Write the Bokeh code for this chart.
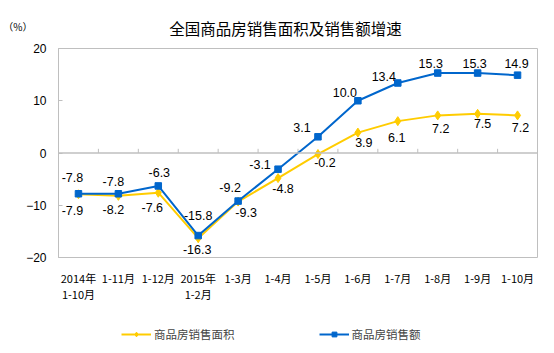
from bokeh.plotting import figure
from bokeh.layouts import column
from bokeh.models import (Range1d, FixedTicker, Span, Label, Legend, LegendItem,
                          ColumnDataSource, LabelSet, LinearAxis)
from bokeh.core.properties import value
from bokeh.embed import file_html
from bokeh.resources import INLINE

categories = ["2014年\n1-10月", "1-11月", "1-12月", "2015年\n1-2月", "1-3月", "1-4月",
              "1-5月", "1-6月", "1-7月", "1-8月", "1-9月", "1-10月"]
area_growth = [-7.9, -8.2, -7.6, -16.3, -9.3, -4.8, -0.2, 3.9, 6.1, 7.2, 7.5, 7.2]
sales_growth = [-7.8, -7.8, -6.3, -15.8, -9.2, -3.1, 3.1, 10.0, 13.4, 15.3, 15.3, 14.9]
y_ticks = [-20, -10, 0, 10, 20]
series_names = ["商品房销售面积", "商品房销售额"]
title_text = "全国商品房销售面积及销售额增速"
unit_text = "（%）"

# label placement offsets (pixels)
sales_dx = [-6, -5, 1, 0, -8, -18, -16, -13, -14, -7, -3, -1]
sales_dy = [16, 12, 13, 20, 14, 5, 9, 8, 6, 10, 10, 12]
area_dx = [-6, -5, -6, -1, 8, 5, 7, 6, -1, 3, 5, 3]
area_dy = [-16, -14, -15, -11, -11, -10, -8, -10, -16, -13, -10, -12]

YELLOW = "#FFCC00"
BLUE = "#0066CC"
GRAY = "#BFBFBF"
n = len(categories)
xs = [i + 0.5 for i in range(n)]


def bare_figure(h):
    f = figure(width=554, height=h, output_backend="svg", toolbar_location=None,
               x_range=Range1d(0, 1), y_range=Range1d(0, 1),
               x_axis_type=None, y_axis_type=None, title_location=None,
               min_border_left=58, min_border_right=17,
               min_border_top=0, min_border_bottom=0)
    f.outline_line_color = None
    f.grid.visible = False
    f.background_fill_color = "white"
    f.border_fill_color = "white"
    return f


# ---- header: title and unit ----
top = bare_figure(40)
top.add_layout(Label(x=227, y=13, x_units="screen", y_units="screen", text=title_text,
                     text_align="center", text_baseline="middle",
                     text_font="Noto Sans CJK SC", text_font_size="15.5px", text_color="#000000"))
unit_axis = LinearAxis(ticker=FixedTicker(ticks=[0.35]), major_label_overrides={0.35: unit_text},
                       axis_line_color=None, major_tick_line_color=None,
                       minor_tick_line_color=None, major_label_standoff=20,
                       major_label_text_font="Noto Sans CJK SC",
                       major_label_text_font_size="10px", major_label_text_color="#000000")
top.add_layout(unit_axis, "left")

# ---- main chart ----
p = figure(frame_width=479, frame_height=209, output_backend="svg", toolbar_location=None,
           x_range=Range1d(0, n), y_range=Range1d(-20, 20), title_location=None,
           min_border_left=58, min_border_right=17, min_border_top=8, min_border_bottom=52)
p.background_fill_color = "white"
p.border_fill_color = "white"
p.outline_line_color = GRAY
p.grid.visible = False

xa = p.xaxis[0]
xa.ticker = FixedTicker(ticks=xs)
xa.major_label_overrides = {x: c for x, c in zip(xs, categories)}
xa.axis_line_color = None
xa.major_tick_line_color = None
xa.minor_tick_line_color = None
xa.major_label_standoff = 6
xa.major_label_text_font = "Noto Sans CJK SC"
xa.major_label_text_font_size = "11px"
xa.major_label_text_line_height = 1.05
xa.major_label_text_color = "#000000"

ya = p.yaxis[0]
ya.ticker = FixedTicker(ticks=y_ticks)
ya.axis_line_color = GRAY
ya.major_tick_line_color = GRAY
ya.major_tick_in = 4
ya.major_tick_out = 0
ya.minor_tick_line_color = None
ya.major_label_standoff = 12
ya.major_label_text_font = "Liberation Sans"
ya.major_label_text_font_size = "12px"
ya.major_label_text_color = "#000000"

# zero line with category-boundary ticks
p.add_layout(Span(location=0, dimension="width", line_color=GRAY, line_width=1.5))
bounds = list(range(1, n))
p.segment(x0=bounds, x1=bounds, y0=[0] * len(bounds), y1=[0.8] * len(bounds),
          line_color=GRAY, line_width=1)

src = ColumnDataSource(dict(x=xs, area=area_growth, sales=sales_growth,
                            atxt=[f"{v:.1f}" for v in area_growth],
                            stxt=[f"{v:.1f}" for v in sales_growth],
                            adx=area_dx, ady=area_dy, sdx=sales_dx, sdy=sales_dy))

p.line("x", "area", source=src, line_color=YELLOW, line_width=2)
p.scatter("x", "area", source=src, marker="diamond", size=9,
          fill_color=YELLOW, line_color=YELLOW)
p.line("x", "sales", source=src, line_color=BLUE, line_width=2)
p.scatter("x", "sales", source=src, marker="square", size=6.5,
          fill_color=BLUE, line_color=BLUE)

for ycol, tcol, dx, dy in [("area", "atxt", "adx", "ady"), ("sales", "stxt", "sdx", "sdy")]:
    p.add_layout(LabelSet(x="x", y=ycol, text=tcol, source=src, x_offset=dx, y_offset=dy,
                          text_align="center", text_baseline="middle",
                          text_font=value("Liberation Sans"), text_font_size="12.5px",
                          text_color="#000000"))

# ---- legend strip (proxy renderers with no visible points) ----
leg = bare_figure(44)
nan = float("nan")
proxy = ColumnDataSource(dict(x=[nan], y=[nan]))
l1 = leg.line("x", "y", source=proxy, line_color=YELLOW, line_width=2)
m1 = leg.scatter("x", "y", source=proxy, marker="diamond", size=9,
                 fill_color=YELLOW, line_color=YELLOW)
l2 = leg.line("x", "y", source=proxy, line_color=BLUE, line_width=2)
m2 = leg.scatter("x", "y", source=proxy, marker="square", size=6.5,
                 fill_color=BLUE, line_color=BLUE)
legend = Legend(items=[LegendItem(label=series_names[0], renderers=[l1, m1]),
                       LegendItem(label=series_names[1], renderers=[l2, m2])],
                orientation="horizontal", location=(63, 11),
                glyph_width=30, glyph_height=12, label_standoff=3, spacing=84,
                label_text_font="Noto Sans CJK SC", label_text_font_size="11.5px",
                border_line_color=None, background_fill_alpha=0, margin=0, padding=2)
leg.add_layout(legend)

layout = column(top, p, leg, spacing=0)
open("out.html", "w").write(file_html(layout, INLINE))
